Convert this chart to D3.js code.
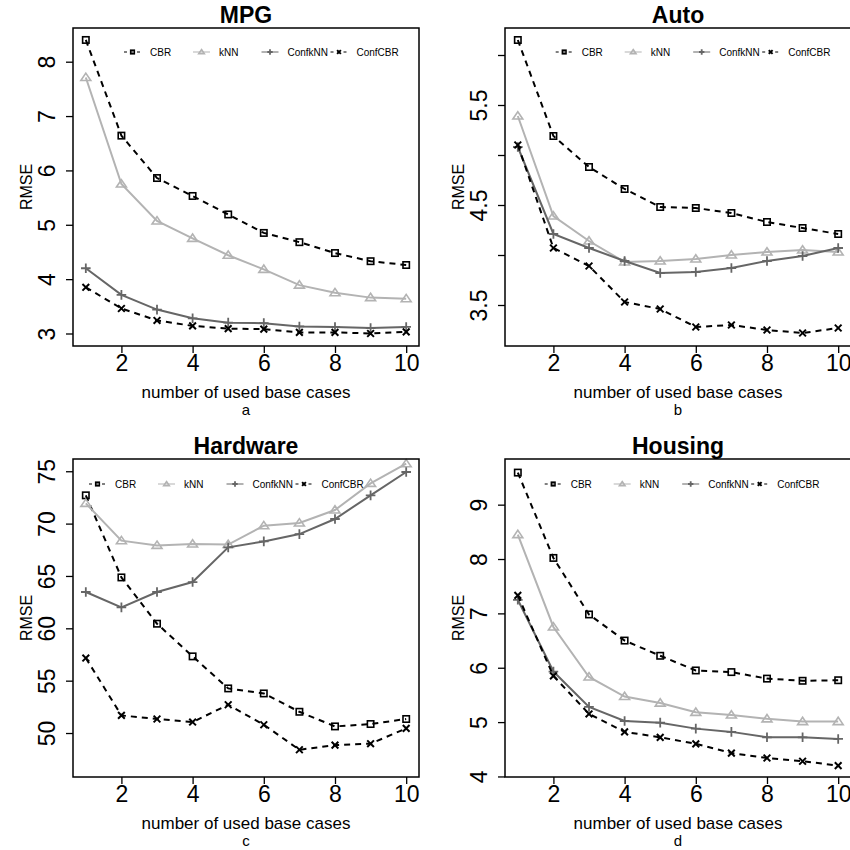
<!DOCTYPE html>
<html>
<head>
<meta charset="utf-8">
<script src="https://cdn.jsdelivr.net/npm/d3@7"></script>
<style>
  html, body { margin: 0; padding: 0; background: #fff; }
  svg { display: block; }
  text { font-family: "Liberation Sans", Arial, Helvetica, sans-serif; }
</style>
</head>
<body>
<svg id="chart" width="850" height="850"></svg>
<script>
// ---------- data ----------
const xValues = [1, 2, 3, 4, 5, 6, 7, 8, 9, 10];
const xTicks = [2, 4, 6, 8, 10];
const seriesNames = ["CBR", "kNN", "ConfkNN", "ConfCBR"];

const panelTitles = ["MPG", "Auto", "Hardware", "Housing"];
const panelLetters = ["a", "b", "c", "d"];

const mpgCBR     = [8.40, 6.64, 5.86, 5.53, 5.19, 4.85, 4.68, 4.48, 4.33, 4.26];
const mpgKNN     = [7.71, 5.75, 5.07, 4.75, 4.44, 4.18, 3.89, 3.75, 3.66, 3.64];
const mpgConfKNN = [4.20, 3.71, 3.44, 3.28, 3.20, 3.19, 3.13, 3.12, 3.10, 3.12];
const mpgConfCBR = [3.85, 3.46, 3.24, 3.14, 3.09, 3.08, 3.02, 3.02, 3.00, 3.03];

const autoCBR     = [6.15, 5.19, 4.88, 4.66, 4.48, 4.47, 4.42, 4.33, 4.27, 4.21];
const autoKNN     = [5.39, 4.39, 4.14, 3.93, 3.94, 3.96, 4.00, 4.03, 4.05, 4.03];
const autoConfKNN = [5.08, 4.21, 4.07, 3.94, 3.82, 3.83, 3.87, 3.94, 3.99, 4.07];
const autoConfCBR = [5.10, 4.07, 3.89, 3.53, 3.46, 3.28, 3.30, 3.25, 3.22, 3.27];

const hwCBR     = [72.70, 64.86, 60.44, 57.32, 54.26, 53.78, 52.03, 50.63, 50.86, 51.34];
const hwKNN     = [71.93, 68.37, 67.92, 68.05, 68.00, 69.80, 70.06, 71.30, 73.84, 75.72];
const hwConfKNN = [63.47, 62.00, 63.47, 64.42, 67.73, 68.30, 69.00, 70.44, 72.70, 74.93];
const hwConfCBR = [57.16, 51.68, 51.34, 51.05, 52.70, 50.79, 48.40, 48.85, 48.98, 50.44];

const housingCBR     = [9.59, 8.02, 6.98, 6.50, 6.22, 5.95, 5.92, 5.80, 5.76, 5.77];
const housingKNN     = [8.45, 6.75, 5.83, 5.47, 5.35, 5.18, 5.13, 5.06, 5.01, 5.01];
const housingConfKNN = [7.25, 5.93, 5.28, 5.02, 4.99, 4.88, 4.82, 4.72, 4.72, 4.69];
const housingConfCBR = [7.33, 5.85, 5.15, 4.82, 4.72, 4.60, 4.43, 4.34, 4.28, 4.20];

const mpgYTicks = [3, 4, 5, 6, 7, 8];
const mpgYLabels = ["3", "4", "5", "6", "7", "8"];
const autoYTicks = [3.5, 4.0, 4.5, 5.0, 5.5, 6.0];
const autoYLabels = ["3.5", "", "4.5", "", "5.5", ""];
const hwYTicks = [50, 55, 60, 65, 70, 75];
const hwYLabels = ["50", "55", "60", "65", "70", "75"];
const housingYTicks = [4, 5, 6, 7, 8, 9];
const housingYLabels = ["4", "5", "6", "7", "8", "9"];

// ---------- layout / style (not data) ----------
const panels = [
  { box: [73, 28, 419, 346],  yDomain: [2.77, 8.62],  vals: [mpgCBR, mpgKNN, mpgConfKNN, mpgConfCBR], yt: mpgYTicks, yl: mpgYLabels, legX: 150, legY: 52 },
  { box: [505, 28, 851, 346], yDomain: [3.09, 6.27],  vals: [autoCBR, autoKNN, autoConfKNN, autoConfCBR], yt: autoYTicks, yl: autoYLabels, legX: 581.7, legY: 52 },
  { box: [73, 459, 419, 777], yDomain: [45.8, 76.17], vals: [hwCBR, hwKNN, hwConfKNN, hwConfCBR], yt: hwYTicks, yl: hwYLabels, legX: 115, legY: 484 },
  { box: [505, 459, 851, 777], yDomain: [3.99, 9.84], vals: [housingCBR, housingKNN, housingConfKNN, housingConfCBR], yt: housingYTicks, yl: housingYLabels, legX: 570.7, legY: 484 }
];

const styles = {
  CBR:     { color: "#000000", dash: "6,5", width: 2, marker: "square" },
  kNN:     { color: "#b3b3b3", dash: null,  width: 2, marker: "triangle" },
  ConfkNN: { color: "#666666", dash: null,  width: 2, marker: "plus" },
  ConfCBR: { color: "#000000", dash: "6,5", width: 2, marker: "cross" }
};
const legendGap = [0, 69, 137.5, 206.5];

const svg = d3.select("#chart");

function drawMarker(g, type, cx, cy, color, s) {
  if (type === "square") {
    g.append("rect").attr("x", cx - s).attr("y", cy - s)
      .attr("width", 2 * s).attr("height", 2 * s)
      .attr("fill", "none").attr("stroke", color).attr("stroke-width", 1.6);
  } else if (type === "triangle") {
    const h = s * 1.35;
    g.append("path")
      .attr("d", `M${cx},${cy - h}L${cx + h * 1.15},${cy + h * 0.7}L${cx - h * 1.15},${cy + h * 0.7}Z`)
      .attr("fill", "none").attr("stroke", color).attr("stroke-width", 1.6);
  } else if (type === "plus") {
    const p = s * 1.5;
    g.append("path")
      .attr("d", `M${cx - p},${cy}L${cx + p},${cy}M${cx},${cy - p}L${cx},${cy + p}`)
      .attr("stroke", color).attr("stroke-width", 1.8);
  } else if (type === "cross") {
    const c = s * 1.05;
    g.append("path")
      .attr("d", `M${cx - c},${cy - c}L${cx + c},${cy + c}M${cx - c},${cy + c}L${cx + c},${cy - c}`)
      .attr("stroke", color).attr("stroke-width", 2);
  }
}

panels.forEach((p, i) => {
  const [L, T, R, B] = p.box;
  const g = svg.append("g");
  const x = d3.scaleLinear().domain([0.64, 10.36]).range([L, R]);
  const y = d3.scaleLinear().domain(p.yDomain).range([B, T]);

  // title
  g.append("text").attr("x", (L + R) / 2).attr("y", T - 5)
    .attr("text-anchor", "middle").attr("font-weight", "bold")
    .attr("font-size", 23).text(panelTitles[i]);

  // x axis
  const xAxis = g.append("g").attr("transform", `translate(0,${B})`)
    .call(d3.axisBottom(x).tickValues(xTicks).tickSize(7).tickSizeOuter(0).tickFormat(d3.format("d")));
  xAxis.select(".domain").remove();
  xAxis.selectAll(".tick line").attr("stroke", "#000").attr("stroke-width", 1.3);
  xAxis.selectAll(".tick text").attr("font-size", 23).attr("fill", "#000")
    .attr("y", 0).attr("dy", 0).attr("transform", "translate(0,25)");

  // y axis
  const yAxis = g.append("g").attr("transform", `translate(${L},0)`)
    .call(d3.axisLeft(y).tickValues(p.yt).tickSize(7).tickSizeOuter(0)
      .tickFormat((d, k) => p.yl[k]));
  yAxis.select(".domain").remove();
  yAxis.selectAll(".tick line").attr("stroke", "#000").attr("stroke-width", 1.3);
  yAxis.selectAll(".tick text").attr("font-size", 23).attr("fill", "#000")
    .attr("x", 0).attr("y", 0).attr("dy", "0.36em").attr("text-anchor", "middle")
    .attr("transform", "translate(-26,0) rotate(-90)");

  // axis labels
  g.append("text").attr("x", (L + R) / 2).attr("y", B + 51.5)
    .attr("text-anchor", "middle").attr("font-size", 17).text("number of used base cases");
  g.append("text").attr("x", (L + R) / 2).attr("y", B + 69)
    .attr("text-anchor", "middle").attr("font-size", 15).text(panelLetters[i]);
  g.append("text").attr("transform", `translate(${L - 41},${(T + B) / 2}) rotate(-90)`)
    .attr("text-anchor", "middle").attr("font-size", 16).text("RMSE");

  // series
  seriesNames.forEach((name, k) => {
    const st = styles[name];
    const data = xValues.map((xv, j) => [xv, p.vals[k][j]]);
    const line = d3.line().x(d => x(d[0])).y(d => y(d[1]));
    g.append("path").datum(data).attr("d", line)
      .attr("fill", "none").attr("stroke", st.color).attr("stroke-width", st.width)
      .attr("stroke-dasharray", st.dash);
    const mg = g.append("g");
    data.forEach(d => drawMarker(mg, st.marker, x(d[0]), y(d[1]), st.color, 3.2));
  });

  // legend
  seriesNames.forEach((name, k) => {
    const st = styles[name];
    const tx = p.legX + legendGap[k];
    const lg = g.append("g");
    lg.append("line").attr("x1", tx - 26).attr("x2", tx - 9)
      .attr("y1", p.legY).attr("y2", p.legY)
      .attr("stroke", st.color).attr("stroke-width", 1)
      .attr("stroke-dasharray", st.dash ? "3,3.5" : null);
    drawMarker(lg, st.marker, tx - 17.5, p.legY, st.color, 1.8);
    lg.append("text").attr("x", tx).attr("y", p.legY + 3.6)
      .attr("font-size", 10).text(name);
  });

  // box
  g.append("rect").attr("x", L).attr("y", T).attr("width", R - L).attr("height", B - T)
    .attr("fill", "none").attr("stroke", "#000").attr("stroke-width", 1.5);
});
</script>
</body>
</html>
